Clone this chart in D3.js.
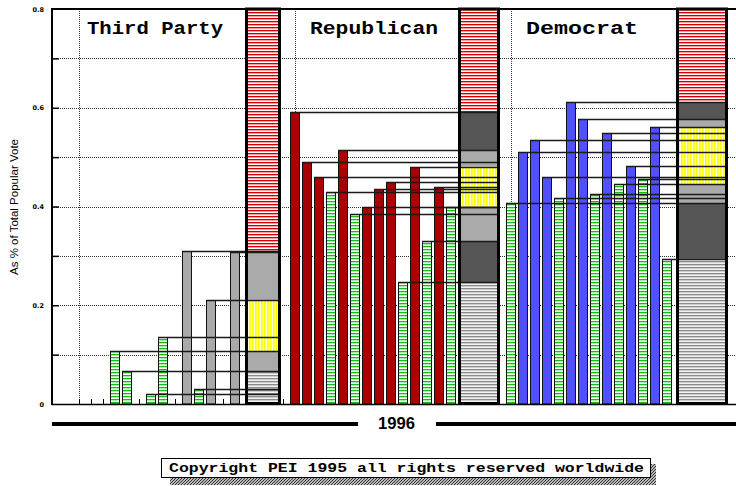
<!DOCTYPE html>
<html><head><meta charset="utf-8">
<script src="https://cdn.jsdelivr.net/npm/d3@7"></script>
<style>html,body{margin:0;padding:0;background:#fff;} svg{display:block;}</style>
</head><body>
<svg id="chart" width="736" height="486"></svg>
<script>
// ---------- DATA ----------
const panelNames = ["Third Party", "Republican", "Democrat"];
const thirdPartyValues = [null, null, null, 0.107, 0.067, null, 0.021, 0.136, null, 0.309, 0.031, 0.211, null, 0.307];
const thirdPartyTypes  = [null, null, null, "alt", "alt", null, "alt", "alt", null, "main", "alt", "main", null, "main"];
const republicanValues = [0.591, 0.490, 0.460, 0.429, 0.514, 0.385, 0.400, 0.435, 0.450, 0.247, 0.481, 0.331, 0.439, 0.399];
const republicanTypes  = ["main", "main", "main", "alt", "main", "alt", "main", "main", "main", "alt", "main", "alt", "main", "alt"];
const democratValues   = [0.408, 0.510, 0.535, 0.460, 0.417, 0.611, 0.577, 0.426, 0.549, 0.445, 0.483, 0.455, 0.560, 0.294];
const democratTypes    = ["alt", "main", "main", "main", "alt", "main", "main", "alt", "main", "alt", "main", "alt", "main", "alt"];
const thirdPartyBands = [0.067, 0.107, 0.211, 0.309];
const thirdPartyBandKinds = ["hatch", "light", "yellow", "light", "top"];
const republicanBands = [0.247, 0.331, 0.400, 0.481, 0.514, 0.591];
const republicanBandKinds = ["hatch", "dark", "light", "yellow", "light", "dark", "top"];
const democratBands = [0.294, 0.408, 0.445, 0.560, 0.577, 0.611];
const democratBandKinds = ["hatch", "dark", "light", "yellow", "light", "dark", "top"];
const yTickValues = [0, 0.2, 0.4, 0.6, 0.8];
const yTickLabels = ["0", "0.2", "0.4", "0.6", "0.8"];
const gridValues = [0.1, 0.2, 0.3, 0.4, 0.5, 0.6, 0.7];
const yearLabel = "1996";
const yAxisTitle = "As % of Total Popular Vote";
const copyrightText = "Copyright PEI 1995 all rights reserved worldwide";

const panels = [
  {name: panelNames[0], values: thirdPartyValues, types: thirdPartyTypes, bands: thirdPartyBands, kinds: thirdPartyBandKinds},
  {name: panelNames[1], values: republicanValues, types: republicanTypes, bands: republicanBands, kinds: republicanBandKinds},
  {name: panelNames[2], values: democratValues, types: democratTypes, bands: democratBands, kinds: democratBandKinds}
];

// ---------- LAYOUT ----------
const svg = d3.select("#chart");
const L = 52, R = 736, T = 9, B = 404;
const y = d3.scaleLinear().domain([0, 0.8]).range([B, T]);
const SLOTS = 18;
const x = d3.scaleLinear().domain([0, 1]).range([79, 91]);
const gx = (p, s) => x(p * SLOTS + s);
const stackSlots = [[13.92, 16.79], [13.67, 16.96], [13.83, 18.0]];
const titleOffsets = [8, 15, 15];
const titleWidths = [136, 128, 112];
const mainColors = ["#aaaaaa", "#aa0000", "#5050ff"];

// ---------- PATTERNS ----------
const defs = svg.append("defs");
function hPattern(id, w, rows) {
  const p = defs.append("pattern").attr("id", id).attr("patternUnits", "userSpaceOnUse")
    .attr("width", w).attr("height", rows.length);
  rows.forEach((c, i) => p.append("rect").attr("x", 0).attr("y", i).attr("width", w).attr("height", 1).attr("fill", c));
}
function vPattern(id, h, cols) {
  const p = defs.append("pattern").attr("id", id).attr("patternUnits", "userSpaceOnUse")
    .attr("width", cols.length).attr("height", h);
  cols.forEach((c, i) => p.append("rect").attr("x", i).attr("y", 0).attr("width", 1).attr("height", h).attr("fill", c));
}
hPattern("pGreen", 4, ["#18b818", "#a8f0a8", "#ffffff"]);
hPattern("pRed", 4, ["#cc0000", "#ff9a9a", "#ffffff"]);
hPattern("pGray", 4, ["#8a8a8a", "#cdcdcd", "#f2f2f2"]);
vPattern("pYellow", 4, ["#ffff00", "#ffff40", "#ffffd8"]);
const sh = defs.append("pattern").attr("id", "pShadow").attr("patternUnits", "userSpaceOnUse")
  .attr("width", 3).attr("height", 3);
sh.append("rect").attr("width", 3).attr("height", 3).attr("fill", "#b8b8b8");
sh.append("path").attr("d", "M-1,4 L4,-1 M-1,1 L1,-1 M2,4 L4,2").attr("stroke", "#333").attr("stroke-width", 1);

const kindFill = {hatch: "url(#pGray)", dark: "#555555", light: "#aaaaaa", yellow: "url(#pYellow)", top: "url(#pRed)"};

// ---------- GRID ----------
svg.append("g").selectAll("line").data(gridValues).join("line")
  .attr("x1", L).attr("x2", R)
  .attr("y1", d => Math.round(y(d)) + 0.5).attr("y2", d => Math.round(y(d)) + 0.5)
  .attr("stroke", "#333").attr("stroke-width", 1).attr("stroke-dasharray", "1,1");
svg.append("g").selectAll("line").data(panels).join("line")
  .attr("x1", (d, i) => Math.round(gx(i, 0)) + 0.5).attr("x2", (d, i) => Math.round(gx(i, 0)) + 0.5)
  .attr("y1", T).attr("y2", B)
  .attr("stroke", "#333").attr("stroke-width", 1).attr("stroke-dasharray", "1,1");

// left inner ticks
const yInner = d3.axisRight(y).tickValues(gridValues).tickSize(7).tickFormat("");
const gyi = svg.append("g").attr("transform", `translate(${L},0)`).call(yInner);
gyi.select(".domain").remove();
gyi.selectAll("line").attr("stroke", "#000").attr("stroke-width", 1.5);

// x axis ticks at every slot
const allSlots = d3.range(0, 3 * SLOTS);
const xAxis = d3.axisTop(x).tickValues(allSlots).tickSize(5).tickFormat("").tickSizeOuter(0);
const gxa = svg.append("g").attr("transform", `translate(0,${B})`).call(xAxis);
gxa.select(".domain").remove();
gxa.selectAll("line").attr("stroke", "#000").attr("stroke-width", 1);

// ---------- PANELS ----------
panels.forEach((pd, p) => {
  const g = svg.append("g");
  const sx0 = Math.round(gx(p, stackSlots[p][0]));
  const sx1 = Math.round(gx(p, stackSlots[p][1]));
  const breaks = [0, ...pd.bands, 0.8];
  const segs = pd.kinds.map((k, i) => ({k, lo: breaks[i], hi: breaks[i + 1]}));
  // stack fills
  g.append("g").selectAll("rect").data(segs).join("rect")
    .attr("x", sx0).attr("width", sx1 - sx0)
    .attr("y", d => y(d.hi)).attr("height", d => y(d.lo) - y(d.hi))
    .attr("fill", d => kindFill[d.k]);
  // bars
  const bars = pd.values.map((v, s) => ({v, s, t: pd.types[s]})).filter(d => d.v != null);
  g.append("g").selectAll("rect").data(bars).join("rect")
    .attr("x", d => Math.round(gx(p, d.s) - 5) + 0.5)
    .attr("width", 9)
    .attr("y", d => Math.round(y(d.v)) + 0.5)
    .attr("height", d => B - Math.round(y(d.v)) - 0.5)
    .attr("fill", d => d.t === "alt" ? "url(#pGreen)" : mainColors[p])
    .attr("stroke", "#111").attr("stroke-width", 1);
  // connector lines
  g.append("g").selectAll("line").data(bars).join("line")
    .attr("x1", d => Math.round(gx(p, d.s) - 5)).attr("x2", sx1)
    .attr("y1", d => Math.round(y(d.v)) + 0.5).attr("y2", d => Math.round(y(d.v)) + 0.5)
    .attr("stroke", "#1a1a1a").attr("stroke-width", 1.4);
  // stack outline
  g.append("rect").attr("x", sx0 + 0.5).attr("y", T).attr("width", sx1 - sx0 - 1).attr("height", B - T - 0.5)
    .attr("fill", "none").attr("stroke", "#000").attr("stroke-width", 3);
  // title
  g.append("text").attr("x", gx(p, 0) + titleOffsets[p]).attr("y", 34)
    .attr("font-family", "'Liberation Mono', 'DejaVu Sans Mono', monospace")
    .attr("font-weight", "bold").attr("font-size", 19)
    .attr("textLength", titleWidths[p]).attr("lengthAdjust", "spacingAndGlyphs")
    .attr("fill", "#000").text(pd.name);
});

// ---------- FRAME ----------
svg.append("line").attr("x1", L).attr("x2", R).attr("y1", T).attr("y2", T).attr("stroke", "#000").attr("stroke-width", 2);
svg.append("line").attr("x1", L).attr("x2", R).attr("y1", B + 0.5).attr("y2", B + 0.5).attr("stroke", "#000").attr("stroke-width", 1.5);
svg.append("line").attr("x1", L).attr("x2", L).attr("y1", T - 1).attr("y2", B + 1).attr("stroke", "#000").attr("stroke-width", 2);

// y labels
const yAxis = d3.axisLeft(y).tickValues(yTickValues).tickSize(0).tickPadding(0)
  .tickFormat((d, i) => yTickLabels[i]);
const gya = svg.append("g").attr("transform", `translate(44,0)`).call(yAxis);
gya.select(".domain").remove();
gya.selectAll("text").attr("font-family", "'DejaVu Sans', sans-serif").attr("font-weight", "bold")
  .attr("font-size", 6.5).attr("fill", "#000");

// y title
svg.append("text").attr("transform", `translate(18,207) rotate(-90)`)
  .attr("text-anchor", "middle").attr("font-family", "'Liberation Sans', Arial, sans-serif")
  .attr("font-size", 11.5).attr("fill", "#000").text(yAxisTitle);

// year line
svg.append("rect").attr("x", L).attr("y", 422).attr("width", 306).attr("height", 4).attr("fill", "#000");
svg.append("rect").attr("x", 436).attr("y", 422).attr("width", R - 436).attr("height", 4).attr("fill", "#000");
svg.append("text").attr("x", 396.5).attr("y", 429).attr("text-anchor", "middle")
  .attr("font-family", "'Liberation Sans', Arial, sans-serif").attr("font-weight", "bold")
  .attr("font-size", 16).attr("textLength", 37).attr("lengthAdjust", "spacingAndGlyphs")
  .attr("fill", "#000").text(yearLabel);

// copyright box
svg.append("rect").attr("x", 170).attr("y", 464).attr("width", 486).attr("height", 21).attr("fill", "url(#pShadow)");
svg.append("rect").attr("x", 161.5).attr("y", 458.5).attr("width", 489).attr("height", 19).attr("fill", "#fff")
  .attr("stroke", "#000").attr("stroke-width", 1);
svg.append("text").attr("x", 169).attr("y", 472).attr("font-family", "'Liberation Mono', 'DejaVu Sans Mono', monospace")
  .attr("font-weight", "bold").attr("font-size", 13.5).attr("textLength", 475).attr("lengthAdjust", "spacingAndGlyphs")
  .attr("fill", "#000").text(copyrightText);
</script>
</body></html>
